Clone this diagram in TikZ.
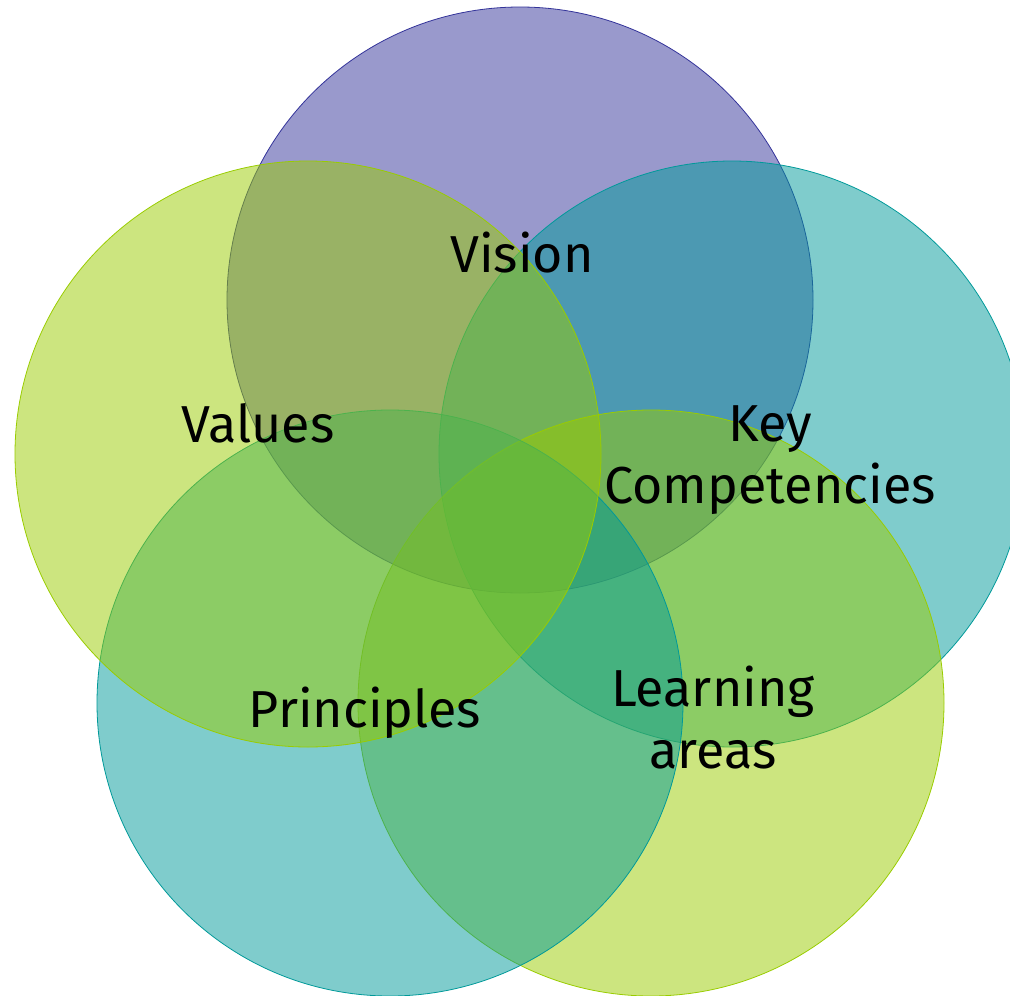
\documentclass[tikz,border=0pt]{standalone}
\usepackage{fontspec}
\setmainfont{Fira Sans}
\definecolor{cpurple}{HTML}{333399}
\definecolor{cteal}{HTML}{009999}
\definecolor{cgreen}{HTML}{99CC00}
\begin{document}
\begin{tikzpicture}[x=1pt,y=-1pt,
  ring/.style={circle, minimum size=586pt, inner sep=0pt, fill opacity=0.5, line width=0.8pt},
  lbl/.style={font=\fontsize{52}{62}\selectfont, align=center, text=black}]
\useasboundingbox (0,0) rectangle (1010,996);
\clip (0,0) rectangle (1010,996);
\node[ring, fill=cpurple, draw=cpurple] (vision) at (520,300) {};
\node[ring, fill=cteal, draw=cteal] (key) at (732,454) {};
\node[ring, fill=cgreen, draw=cgreen] (learn) at (651,703) {};
\node[ring, fill=cteal, draw=cteal] (princ) at (390,703) {};
\node[ring, fill=cgreen, draw=cgreen] (values) at (308,454) {};
\node[lbl] (tv) at (522,253) {Vision};
\node[lbl] (tk) at (770,460) {Key\\Competencies};
\node[lbl] (tl) at (713,718) {Learning\\areas};
\node[lbl] (tp) at (365,713) {Principles};
\node[lbl] (ta) at (258,423) {Values};
\end{tikzpicture}
\end{document}
